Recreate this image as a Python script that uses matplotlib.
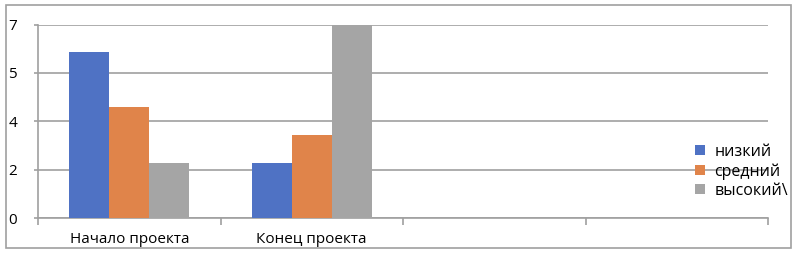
import matplotlib.pyplot as plt
import numpy as np
from matplotlib.patches import Rectangle

plt.rcParams['font.family'] = ['Open Sans', 'DejaVu Sans']

# data
categories = ['Начало проекта', 'Конец проекта', '', '']
series = ['низкий', 'средний', 'высокий\\']
low = [6, 2, 0, 0]
mid = [4, 3, 0, 0]
high = [2, 7, 0, 0]
yticks = [0, 1.75, 3.5, 5.25, 7]
ytick_labels = ['0', '2', '4', '5', '7']

colors = ['#4f72c4', '#e0844a', '#a5a5a5']
grid_c = '#a0a0a0'

fig = plt.figure(figsize=(8, 2.54), dpi=100)
ax = fig.add_axes([38 / 800, 1 - 218 / 254, 730 / 800, 193.5 / 254])

x = np.arange(len(categories))
w = 0.22
for i, (vals, name) in enumerate(zip([low, mid, high], series)):
    ax.bar(x + (i - 1) * w, vals, w, color=colors[i], label=name, zorder=3)

ax.set_xlim(-0.5, len(categories) - 0.5)
ax.set_ylim(0, 7)
ax.set_yticks(yticks)
ax.set_yticklabels(ytick_labels, fontsize=11)
ax.yaxis.grid(True, color=grid_c, linewidth=1.2, zorder=0)
ax.tick_params(axis='y', length=3, color=grid_c, width=1.2, pad=12)

ax.set_xticks(x)
ax.set_xticklabels(categories, fontsize=11)
ax.set_xticks(np.arange(-0.5, len(categories)), minor=True)
ax.tick_params(axis='x', which='major', length=0, pad=10)
ax.tick_params(axis='x', which='minor', length=5, color=grid_c, width=1.2)

for s in ['top', 'right']:
    ax.spines[s].set_visible(False)
for s in ['left', 'bottom']:
    ax.spines[s].set_color(grid_c)
    ax.spines[s].set_linewidth(1.2)

leg = ax.legend(loc='upper left', bbox_to_anchor=(687 / 800, 1 - 136 / 254),
                bbox_transform=fig.transFigure, frameon=False, fontsize=11.5,
                handlelength=0.6, handleheight=0.6, handletextpad=0.6,
                labelspacing=0.2, borderpad=0)

fig.patches.append(Rectangle((6 / 800, 1 - 248 / 254), 785 / 800, 243 / 254,
                             transform=fig.transFigure, fill=False,
                             edgecolor='#a0a0a0', linewidth=1.2))

fig.savefig('out.png', dpi=100)
